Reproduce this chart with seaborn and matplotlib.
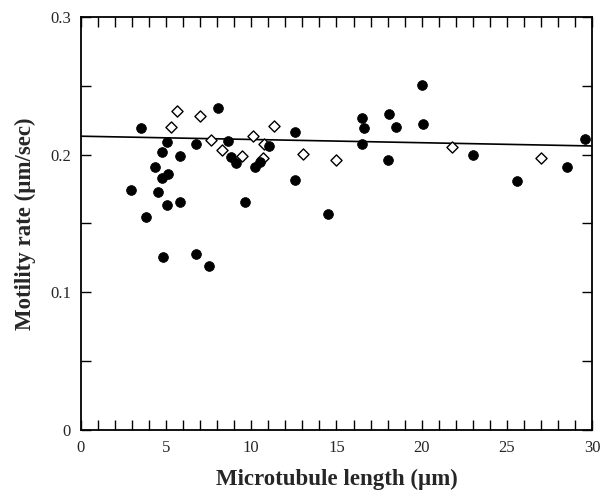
import numpy as np
import pandas as pd
import matplotlib
matplotlib.use("Agg")
import matplotlib.pyplot as plt
from matplotlib.ticker import MultipleLocator
import seaborn as sns

# ── Data ──────────────────────────────────────────────────────────────────────
filled_x = [2.94, 3.55, 3.84, 4.34, 4.52, 4.74, 4.74, 4.83, 5.04, 5.13, 5.04,
            5.83, 5.83, 6.73, 6.73, 7.54, 8.02, 8.63, 8.81, 9.13, 9.62, 10.21,
            10.53, 11.02, 12.54, 12.54, 14.52, 16.49, 16.60, 16.49, 18.09, 18.0,
            18.5, 19.99, 20.1, 23.0, 25.59, 28.5, 29.61]
filled_y = [0.1746, 0.219, 0.155, 0.1907, 0.1727, 0.202, 0.1827, 0.1256, 0.2095,
            0.1859, 0.1634, 0.199, 0.1656, 0.2076, 0.1276, 0.1188, 0.2339, 0.2098,
            0.1983, 0.1941, 0.1656, 0.1907, 0.1949, 0.2066, 0.2161, 0.1817, 0.1566,
            0.2263, 0.219, 0.2076, 0.2293, 0.196, 0.22, 0.2505, 0.2222, 0.2,
            0.181, 0.191, 0.2112]

open_x = [5.31, 5.65, 7.0, 7.63, 8.29, 9.44, 10.12, 10.71, 10.75, 11.32, 13.01,
          15.0, 21.78, 26.99]
open_y = [0.2202, 0.232, 0.228, 0.2105, 0.2037, 0.1988, 0.2139, 0.1973, 0.2076,
          0.221, 0.2007, 0.1959, 0.2056, 0.1978]

fit_x = [0, 30]
fit_y = [0.2134, 0.2063]

# ── Style ─────────────────────────────────────────────────────────────────────
sns.set_style("ticks")
plt.rcParams["font.family"] = ["Liberation Serif", "DejaVu Serif"]

fig = plt.figure(figsize=(6.03, 5.01), dpi=100)
ax = fig.add_axes([0.134, 0.142, 0.848, 0.824])

filled = pd.DataFrame({"x": filled_x, "y": filled_y})
hollow = pd.DataFrame({"x": open_x, "y": open_y})
fit = pd.DataFrame({"x": fit_x, "y": fit_y})

sns.lineplot(data=fit, x="x", y="y", ax=ax, color="black", lw=1.2, zorder=1)
sns.scatterplot(data=hollow, x="x", y="y", ax=ax, marker="D", s=32,
                facecolor="white", edgecolor="black", linewidth=1.0, zorder=2)
sns.scatterplot(data=filled, x="x", y="y", ax=ax, marker="o", s=50,
                color="black", edgecolor="black", linewidth=0.5, zorder=3)

ax.set_xlim(0, 30)
ax.set_ylim(0, 0.3)
ax.xaxis.set_major_locator(MultipleLocator(5))
ax.xaxis.set_minor_locator(MultipleLocator(1))
ax.yaxis.set_major_locator(MultipleLocator(0.1))
ax.yaxis.set_minor_locator(MultipleLocator(0.05))
ax.yaxis.set_major_formatter(plt.FuncFormatter(lambda v, p: "0" if v == 0 else f"{v:.1f}"))

ax.tick_params(which="both", direction="in", top=True, right=True,
               color="black", labelsize=12, pad=7)
ax.tick_params(which="major", length=7, width=1)
ax.tick_params(which="minor", length=7, width=1)
for s in ax.spines.values():
    s.set_linewidth(1.3)
    s.set_color("black")

ax.set_xlabel("Microtubule length (µm)", fontsize=16.5, fontweight="bold", va="center")
ax.set_ylabel("Motility rate (µm/sec)", fontsize=16.5, fontweight="bold", labelpad=10)
ax.xaxis.set_label_coords(0.5, -0.121)

fig.savefig("out.png", dpi=100)
